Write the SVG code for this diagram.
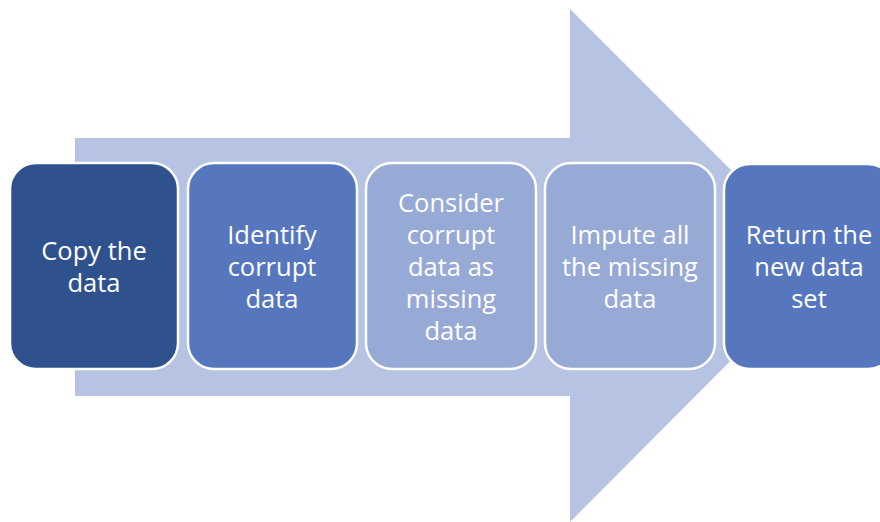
<svg xmlns="http://www.w3.org/2000/svg" width="880" height="522" viewBox="0 0 880 522">
<style>
.box{stroke:#FFFFFF;stroke-width:2.5}
.t{font-family:"Open Sans","Noto Sans",sans-serif;font-size:25.5px;fill:#FFFFFF;text-anchor:middle}
</style>
<rect width="880" height="522" fill="#FFFFFF"/>
<g id="connectors">
<polygon points="75,138 570,138 570,9 826,265 570,522 570,396 75,396" fill="#B7C3E2"/>
</g>
<g id="n1">
<rect class="box" x="10" y="163" width="168" height="206" rx="26" fill="#2F528F"/>
<text class="t" x="94" y="260">Copy the</text>
<text class="t" x="94" y="292">data</text>
</g>
<g id="n2">
<rect class="box" x="188" y="163" width="169" height="206" rx="26" fill="#5677BE"/>
<text class="t" x="272" y="244">Identify</text>
<text class="t" x="272" y="276">corrupt</text>
<text class="t" x="272" y="308">data</text>
</g>
<g id="n3">
<rect class="box" x="366" y="163" width="170" height="206" rx="26" fill="#97A9D5"/>
<text class="t" x="451" y="212">Consider</text>
<text class="t" x="451" y="244">corrupt</text>
<text class="t" x="451" y="276">data as</text>
<text class="t" x="451" y="308">missing</text>
<text class="t" x="451" y="340">data</text>
</g>
<g id="n4">
<rect class="box" x="545" y="163" width="170" height="206" rx="26" fill="#97A9D5"/>
<text class="t" x="630" y="244">Impute all</text>
<text class="t" x="630" y="276">the missing</text>
<text class="t" x="630" y="308">data</text>
</g>
<g id="n5">
<rect class="box" x="724" y="164" width="170" height="205" rx="26" fill="#5677BE"/>
<text class="t" x="809" y="244">Return the</text>
<text class="t" x="809" y="276">new data</text>
<text class="t" x="809" y="308">set</text>
</g>
</svg>
